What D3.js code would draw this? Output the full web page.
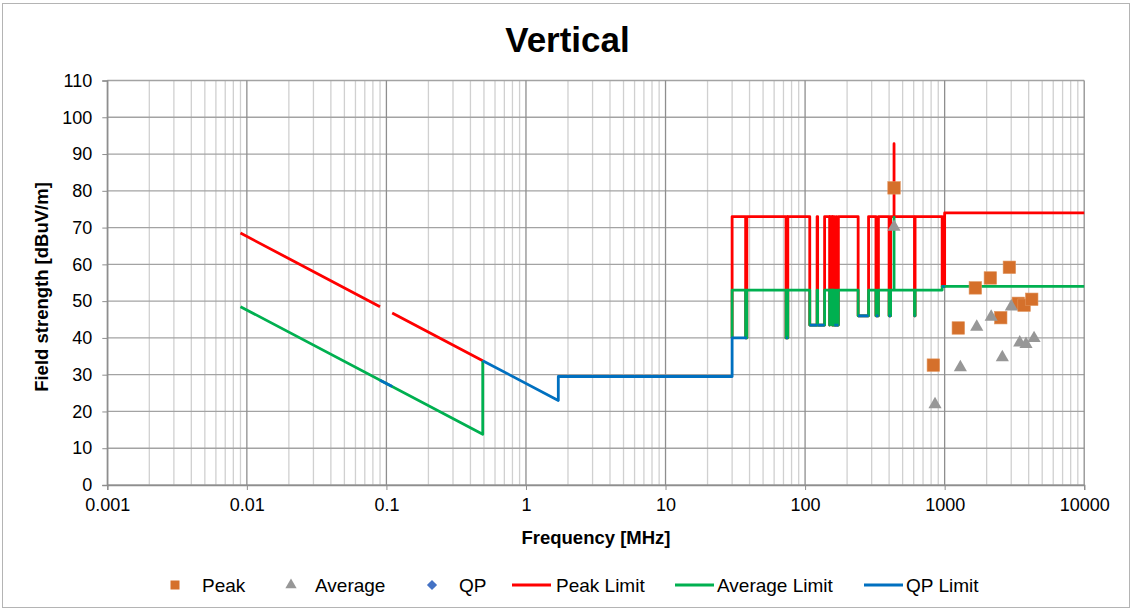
<!DOCTYPE html>
<html><head><meta charset="utf-8">
<script src="https://cdn.jsdelivr.net/npm/d3@7"></script>
<style>
html,body{margin:0;padding:0;background:#fff;}
svg{display:block;font-family:"Liberation Sans",Arial,sans-serif;}
</style></head>
<body>
<svg id="chart" width="1133" height="611"></svg>
<script>
// ---------- DATA ----------
const title = "Vertical";
const xTicks = [0.001, 0.01, 0.1, 1, 10, 100, 1000, 10000];
const xTickLabels = ["0.001", "0.01", "0.1", "1", "10", "100", "1000", "10000"];
const yTicks = [0, 10, 20, 30, 40, 50, 60, 70, 80, 90, 100, 110];

// measured points [MHz, dBuV/m]
const peakData = [[433.92, 80.8], [830, 32.6], [1253, 42.7], [1660, 53.6], [2126, 56.3],
  [2523, 45.5], [2910, 59.2], [3373, 49.4], [3707, 48.9], [4207, 50.5]];
const averageData = [[433.92, 70.2], [853, 21.9], [1296, 32.0], [1698, 43.0], [2155, 45.7],
  [2590, 34.7], [3006, 48.5], [3451, 38.7], [3828, 38.3], [4373, 39.9]];
const qpData = [];

// limit lines [MHz, dBuV/m] (null = gap)
const peakLimit = [
  [0.009, 68.5], [0.09, 48.5], [0.09, null], [0.11, 46.8], [0.49, 33.8], [0.49, null],
  [30, 40], [30, 73], [37.5, 73], [37.5, 40], [38.25, 40], [38.25, 73],
  [73, 73], [73, 40], [74.6, 40], [74.6, 73], [74.8, 73], [74.8, 40], [75.2, 40], [75.2, 73],
  [108, 73], [108, 43.5], [121.94, 43.5], [121.94, 73], [123, 73], [123, 43.5], [138, 43.5], [138, 73],
  [149.9, 73], [149.9, 43.5], [150.05, 43.5], [150.05, 73],
  [156.52475, 73], [156.52475, 43.5], [156.52525, 43.5], [156.52525, 73],
  [156.7, 73], [156.7, 43.5], [156.9, 43.5], [156.9, 73],
  [162.0125, 73], [162.0125, 43.5], [167.17, 43.5], [167.17, 73],
  [167.72, 73], [167.72, 43.5], [173.2, 43.5], [173.2, 73],
  [240, 73], [240, 46], [285, 46], [285, 73],
  [322, 73], [322, 46], [335.4, 46], [335.4, 73],
  [399.9, 73], [399.9, 46], [410, 46], [410, 73],
  [433.92, 73], [433.92, 92.8], [433.92, 73],
  [608, 73], [608, 46], [614, 46], [614, 73],
  [960, 73], [960, 54], [1000, 54], [1000, 74], [10000, 74]
];
const averageLimit = [
  [0.009, 48.5], [0.49, 13.8], [0.49, 33.8], [0.49, null],
  [30, 40], [30, 53], [37.5, 53], [37.5, 40], [38.25, 40], [38.25, 53],
  [73, 53], [73, 40], [74.6, 40], [74.6, 53], [74.8, 53], [74.8, 40], [75.2, 40], [75.2, 53],
  [108, 53], [108, 43.5], [121.94, 43.5], [121.94, 53], [123, 53], [123, 43.5], [138, 43.5], [138, 53],
  [149.9, 53], [149.9, 43.5], [150.05, 43.5], [150.05, 53],
  [156.52475, 53], [156.52475, 43.5], [156.52525, 43.5], [156.52525, 53],
  [156.7, 53], [156.7, 43.5], [156.9, 43.5], [156.9, 53],
  [162.0125, 53], [162.0125, 43.5], [167.17, 43.5], [167.17, 53],
  [167.72, 53], [167.72, 43.5], [173.2, 43.5], [173.2, 53],
  [240, 53], [240, 46], [285, 46], [285, 53],
  [322, 53], [322, 46], [335.4, 46], [335.4, 53],
  [399.9, 53], [399.9, 46], [410, 46], [410, 53],
  [433.92, 53], [433.92, 72.8], [433.92, 53],
  [608, 53], [608, 46], [614, 46], [614, 53],
  [960, 53], [960, 54], [10000, 54]
];
const qpLimit = [
  [0.09, 28.5], [0.11, 26.8], [0.11, null],
  [0.49, 33.8], [1.705, 23.0], [1.705, 29.5], [30, 29.5], [30, 40], [38.25, 40], [38.25, null],
  [73, 40], [74.6, 40], [74.6, null], [74.8, 40], [75.2, 40], [75.2, null],
  [108, 43.5], [121.94, 43.5], [121.94, null], [123, 43.5], [138, 43.5], [138, null],
  [149.9, 43.5], [150.05, 43.5], [150.05, null], [156.52475, 43.5], [156.52525, 43.5], [156.52525, null],
  [156.7, 43.5], [156.9, 43.5], [156.9, null], [162.0125, 43.5], [167.17, 43.5], [167.17, null],
  [167.72, 43.5], [173.2, 43.5], [173.2, null],
  [240, 46], [285, 46], [285, null], [322, 46], [335.4, 46], [335.4, null],
  [399.9, 46], [410, 46], [410, null], [608, 46], [614, 46], [614, null],
  [960, 54], [1000, 54]
];

const legendItems = [
  {label: "Peak", type: "square", color: "#D5702B", x: 175, tx: 202},
  {label: "Average", type: "triangle", color: "#979797", x: 291, tx: 315},
  {label: "QP", type: "diamond", color: "#4472C4", x: 432, tx: 459},
  {label: "Peak Limit", type: "line", color: "#FF0000", x: 512, tx: 556},
  {label: "Average Limit", type: "line", color: "#00B050", x: 675, tx: 717},
  {label: "QP Limit", type: "line", color: "#0070C0", x: 864, tx: 906}
];

// ---------- CHART ----------
const svg = d3.select("#chart");
const L = 107.3, R = 1084.2, T = 80.5, B = 485;
const x = d3.scaleLog().domain([0.001, 10000]).range([L, R]);
const y = d3.scaleLinear().domain([0, 110]).range([B, T]);

svg.append("rect").attr("x", 2.5).attr("y", 3.5).attr("width", 1127).attr("height", 604)
  .attr("fill", "#fff").attr("stroke", "#B4B4B4").attr("stroke-width", 1);

// minor vertical grid
const minor = [];
for (let d = -3; d < 4; d++) for (let m = 2; m <= 9; m++) minor.push(m * Math.pow(10, d));
svg.append("g").selectAll("line").data(minor).join("line")
  .attr("x1", d => x(d)).attr("x2", d => x(d)).attr("y1", T).attr("y2", B)
  .attr("stroke", "#D0D0D0").attr("stroke-width", 1.3);
// horizontal grid
svg.append("g").selectAll("line").data(yTicks).join("line")
  .attr("x1", L).attr("x2", R).attr("y1", d => y(d)).attr("y2", d => y(d))
  .attr("stroke", "#A3A3A3").attr("stroke-width", 1.3);
// major vertical grid
svg.append("g").selectAll("line").data(xTicks).join("line")
  .attr("x1", d => x(d)).attr("x2", d => x(d)).attr("y1", T).attr("y2", B)
  .attr("stroke", "#8E8E8E").attr("stroke-width", 1.3);

// axes
const xAxis = d3.axisBottom(x).tickValues(xTicks).tickFormat((d, i) => xTickLabels[i]).tickSize(5).tickPadding(8);
const gx = svg.append("g").attr("transform", `translate(0,${B})`).call(xAxis);
gx.select(".domain").attr("stroke", "#8E8E8E").attr("stroke-width", 1.3);
gx.selectAll(".tick line").attr("stroke", "#8E8E8E");
gx.selectAll("text").attr("font-size", 18).attr("fill", "#000").attr("font-family", "Liberation Sans, Arial, sans-serif");

const yAxis = d3.axisLeft(y).tickValues(yTicks).tickSize(5).tickPadding(10);
const gy = svg.append("g").attr("transform", `translate(${L},0)`).call(yAxis);
gy.select(".domain").attr("stroke", "#8E8E8E").attr("stroke-width", 1.3);
gy.selectAll(".tick line").attr("stroke", "#8E8E8E");
gy.selectAll("text").attr("font-size", 18).attr("fill", "#000").attr("font-family", "Liberation Sans, Arial, sans-serif");

// lines
const line = d3.line().defined(d => d[1] != null).x(d => x(d[0])).y(d => y(d[1]));
function drawLine(data, color) {
  svg.append("path").datum(data).attr("d", line).attr("fill", "none")
    .attr("stroke", color).attr("stroke-width", 2.8).attr("stroke-linejoin", "round");
}
drawLine(peakLimit, "#FF0000");
drawLine(averageLimit, "#00B050");
drawLine(qpLimit, "#0070C0");

// markers
const sq = 12.5;
svg.append("g").selectAll("rect").data(peakData).join("rect")
  .attr("x", d => x(d[0]) - sq / 2).attr("y", d => y(d[1]) - sq / 2)
  .attr("width", sq).attr("height", sq).attr("fill", "#D5702B").attr("stroke", "#E0935C").attr("stroke-width", 0.6);
const tri = d3.symbol().type(d3.symbolTriangle).size(75);
svg.append("g").selectAll("path").data(averageData).join("path")
  .attr("d", tri).attr("transform", d => `translate(${x(d[0])},${y(d[1])})`).attr("fill", "#979797");
svg.append("g").selectAll("rect").data(qpData).join("rect")
  .attr("x", -4.5).attr("y", -4.5).attr("width", 9).attr("height", 9)
  .attr("transform", d => `translate(${x(d[0])},${y(d[1])}) rotate(45)`).attr("fill", "#4472C4");

// titles
svg.append("text").attr("x", 567.5).attr("y", 52).attr("text-anchor", "middle")
  .attr("font-size", 35).attr("font-weight", "bold").text(title);
svg.append("text").attr("x", 596).attr("y", 544).attr("text-anchor", "middle")
  .attr("font-size", 18.5).attr("font-weight", "bold").text("Frequency [MHz]");
svg.append("text").attr("transform", "translate(48,287) rotate(-90)").attr("text-anchor", "middle")
  .attr("font-size", 18.5).attr("font-weight", "bold").text("Field strength  [dBuV/m]");

// legend
const ly = 585;
const lg = svg.append("g");
legendItems.forEach(it => {
  if (it.type === "square") {
    lg.append("rect").attr("x", it.x - 4.5).attr("y", ly - 4.5).attr("width", 9).attr("height", 9).attr("fill", it.color);
  } else if (it.type === "triangle") {
    lg.append("path").attr("d", d3.symbol().type(d3.symbolTriangle).size(55)).attr("transform", `translate(${it.x},${ly})`).attr("fill", it.color);
  } else if (it.type === "diamond") {
    lg.append("rect").attr("x", -3.6).attr("y", -3.6).attr("width", 7.2).attr("height", 7.2)
      .attr("transform", `translate(${it.x},${ly}) rotate(45)`).attr("fill", it.color);
  } else {
    lg.append("line").attr("x1", it.x).attr("x2", it.x + 39).attr("y1", ly).attr("y2", ly)
      .attr("stroke", it.color).attr("stroke-width", 2.8);
  }
  lg.append("text").attr("x", it.tx).attr("y", ly + 6.5).attr("font-size", 19).text(it.label);
});
</script>
</body></html>
